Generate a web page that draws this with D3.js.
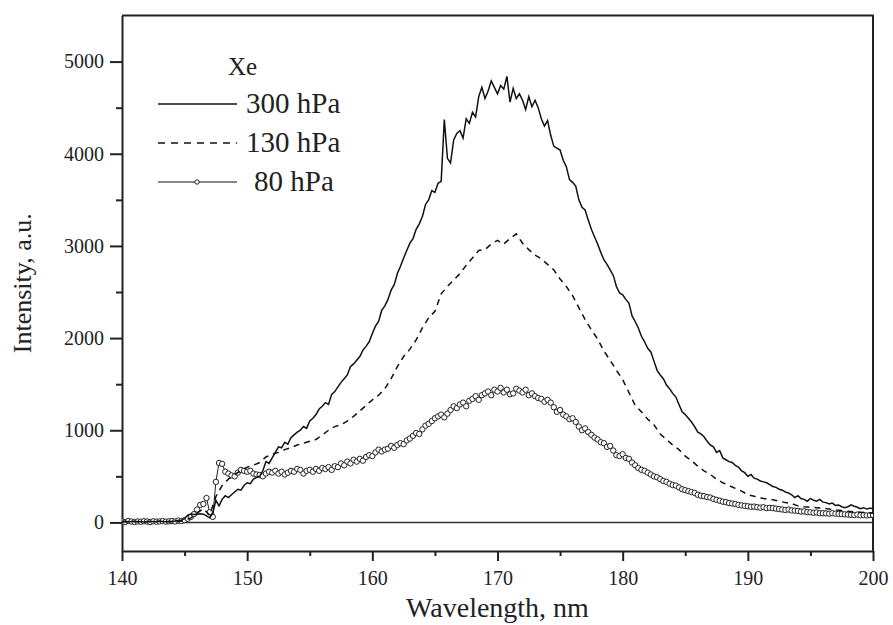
<!DOCTYPE html>
<html>
<head>
<meta charset="utf-8">
<script src="https://cdn.jsdelivr.net/npm/d3@7"></script>
<style>
  body { margin: 0; background: #fff; }
  svg { display: block; }
</style>
</head>
<body>
<div id="chart"></div>
<script>
// Xe emission spectra at three pressures

const SERIF = '"Liberation Serif", "Times New Roman", serif';

// wavelength grids (nm)
const fineStep = 0.25;   // used by 300 hPa and 80 hPa
const coarseStep = 0.5;  // used by 130 hPa

// 300 hPa, one row per nm (4 samples per nm)
const p300 = [
  10, 15, 5, 10,
  12, 8, 10, 5,
  10, 12, 8, 10,
  15, 10, 8, 12,
  10, 15, 20, 25,
  40, 80, 90, 85,
  90, 95, 90, 70,
  50, 100, 240, 180,
  250, 290, 270, 300,
  330, 360, 350, 400,
  430, 420, 470, 490,
  500, 560, 660, 640,
  700, 760, 820, 810,
  870, 850, 920, 950,
  980, 1000, 1040, 1020,
  1100, 1130, 1170, 1230,
  1260, 1300, 1280, 1390,
  1420, 1470, 1520, 1560,
  1600, 1690, 1720, 1760,
  1800, 1870, 1910, 1960,
  2050, 2130, 2180, 2300,
  2350, 2420, 2520, 2580,
  2700, 2780, 2870, 2950,
  3030, 3080, 3180, 3240,
  3320, 3450, 3500, 3600,
  3580, 3680, 3700, 4370,
  3950, 3900, 4150, 4220,
  4250, 4170, 4380, 4330,
  4450, 4400, 4620, 4720,
  4600, 4680, 4790, 4720,
  4650, 4740, 4700, 4840,
  4560, 4710, 4600, 4650,
  4580, 4480, 4620, 4510,
  4580, 4500, 4380, 4300,
  4360, 4200, 4080, 4060,
  4040, 3930, 3860, 3720,
  3690, 3650, 3500, 3420,
  3390, 3280, 3180, 3100,
  3020, 2930, 2850, 2800,
  2740, 2680, 2560, 2490,
  2470, 2420, 2380, 2240,
  2180, 2110, 2020, 1960,
  1890, 1850, 1750, 1650,
  1600, 1560, 1490, 1450,
  1400, 1360, 1280, 1200,
  1170, 1130, 1090, 1040,
  980, 960, 930, 880,
  840, 820, 760, 780,
  700, 680, 660, 650,
  620, 600, 560, 540,
  500, 520, 480, 470,
  450, 440, 430, 410,
  390, 380, 360, 350,
  330, 320, 300, 270,
  290, 260, 250, 230,
  260, 240, 230, 250,
  220, 215, 200, 210,
  185, 190, 170, 160,
  170, 190, 175, 165,
  150, 160, 145, 155,
  150
];

// 130 hPa, 2 samples per nm
const p130 = [
  5, 8, 10, 6, 8, 5, 10, 8, 6, 10,
  20, 50, 100, 150, 80, 280, 400, 470, 520, 560,
  600, 620, 650, 710, 740, 760, 790, 810, 840, 860,
  880, 900, 950, 1000, 1040, 1060, 1100, 1150, 1210, 1270,
  1330, 1380, 1450, 1560, 1690, 1800, 1880, 1980, 2110, 2220,
  2290, 2480, 2560, 2630, 2700, 2790, 2870, 2950, 2960, 3020,
  3060, 3020, 3080, 3130, 3030, 2960, 2900, 2860, 2800, 2740,
  2640, 2560, 2460, 2330, 2200, 2090, 1990, 1860, 1760, 1650,
  1550, 1410, 1270, 1200, 1120, 1060, 960, 900, 840, 790,
  720, 670, 610, 560, 520, 470, 430, 400, 370, 340,
  300, 285, 265, 255, 245, 230, 215, 205, 180, 170,
  165, 160, 155, 145, 135, 130, 120, 115, 110, 105,
  100
];

// 80 hPa, 4 samples per nm
const p80 = [
  10, 5, 15, 10,
  5, 10, 8, 12,
  10, 5, 12, 8,
  10, 15, 8, 12,
  15, 10, 20, 15,
  25, 40, 60, 90,
  140, 190, 200, 265,
  110, 60, 440, 645,
  635, 550, 530, 510,
  500, 540, 570, 560,
  550, 560, 530, 520,
  515, 500, 530, 550,
  540, 560, 530, 550,
  520, 540, 560, 550,
  580, 570, 530, 560,
  570, 550, 580, 560,
  590, 580, 600, 570,
  610, 600, 640, 620,
  660, 640, 680, 660,
  690, 670, 710, 730,
  720, 760, 790, 770,
  790, 800, 830, 810,
  840, 860, 850, 890,
  910, 940, 970, 960,
  1010, 1050, 1070, 1100,
  1130, 1150, 1170, 1140,
  1180, 1220, 1260, 1240,
  1280, 1300, 1260, 1320,
  1340, 1370, 1330, 1380,
  1400, 1420, 1380, 1440,
  1420, 1460, 1410, 1440,
  1390, 1400, 1450, 1430,
  1410, 1440, 1380, 1400,
  1370, 1350, 1340, 1310,
  1330, 1300, 1250, 1200,
  1220, 1170, 1150, 1120,
  1130, 1090, 1040, 1000,
  1020, 980, 950, 920,
  900, 870, 860, 820,
  830, 780, 730, 720,
  740, 700, 690, 650,
  620, 590, 570, 560,
  540, 520, 500, 490,
  470, 450, 440, 420,
  405, 400, 380, 360,
  350, 340, 330, 320,
  300, 290, 285, 275,
  270, 255, 245, 235,
  225, 220, 210, 205,
  200, 190, 185, 180,
  175, 170, 172, 165,
  160, 165, 155, 158,
  155, 150, 145, 140,
  135, 140, 130, 128,
  125, 118, 120, 112,
  110, 105, 108, 100,
  100, 98, 95, 100,
  95, 92, 90, 88,
  85, 82, 80, 85,
  78, 80, 75, 80,
  80
];

const xTicks = [140, 150, 160, 170, 180, 190, 200];
const xMinorTicks = [145, 155, 165, 175, 185, 195];
const yTicks = [0, 1000, 2000, 3000, 4000, 5000];
const yMinorTicks = [500, 1500, 2500, 3500, 4500];

const legendTitle = 'Xe';
const legendLabels = ['300 hPa', '130 hPa', '80 hPa'];

const width = 893, height = 625;
const margin = { top: 15.5, right: 20, bottom: 74, left: 122 };

const svg = d3.select('#chart').append('svg')
  .attr('width', width)
  .attr('height', height);

const x = d3.scaleLinear()
  .domain([140, 200])
  .range([margin.left, width - margin.right]);

const y = d3.scaleLinear()
  .domain([-310, 5500])
  .range([height - margin.bottom, margin.top]);

const toPoints = (arr, step) => arr.map((v, i) => [140 + i * step, v]);
const s300 = toPoints(p300, fineStep);
const s130 = toPoints(p130, coarseStep);
const s80 = toPoints(p80, fineStep);

svg.append('defs').append('clipPath').attr('id', 'plot')
  .append('rect')
  .attr('x', x(140)).attr('y', y(5500))
  .attr('width', x(200) - x(140)).attr('height', y(-310) - y(5500));

// bottom axis
svg.append('g')
  .attr('transform', `translate(0,${y(-310)})`)
  .call(d3.axisBottom(x).tickValues(xTicks).tickFormat(d3.format('d'))
    .tickSize(10).tickPadding(10).tickSizeOuter(0));
svg.append('g')
  .attr('transform', `translate(0,${y(-310)})`)
  .call(d3.axisBottom(x).tickValues(xMinorTicks).tickSize(5).tickFormat('').tickSizeOuter(0))
  .call(g => g.select('.domain').remove());

// left axis
svg.append('g')
  .attr('transform', `translate(${x(140)},0)`)
  .call(d3.axisLeft(y).tickValues(yTicks).tickFormat(d3.format('d'))
    .tickSize(12).tickPadding(6).tickSizeOuter(0));
svg.append('g')
  .attr('transform', `translate(${x(140)},0)`)
  .call(d3.axisLeft(y).tickValues(yMinorTicks).tickSize(6).tickFormat('').tickSizeOuter(0))
  .call(g => g.select('.domain').remove());

svg.selectAll('.domain, .tick line').attr('stroke', '#222').attr('stroke-width', 2);
svg.selectAll('.tick text')
  .attr('font-family', SERIF)
  .attr('font-size', 20)
  .attr('fill', '#222');

// top and right frame
svg.append('path')
  .attr('d', `M${x(140)},${y(5500)}H${x(200)}V${y(-310)}`)
  .attr('fill', 'none')
  .attr('stroke', '#222')
  .attr('stroke-width', 2);

// zero line
svg.append('line')
  .attr('x1', x(140)).attr('x2', x(200))
  .attr('y1', y(0)).attr('y2', y(0))
  .attr('stroke', '#333')
  .attr('stroke-width', 1.5);

const line = d3.line().x(d => x(d[0])).y(d => y(d[1]));
const plot = svg.append('g').attr('clip-path', 'url(#plot)');

plot.append('path')
  .datum(s80)
  .attr('fill', 'none')
  .attr('stroke', '#222')
  .attr('stroke-width', 1)
  .attr('d', line);

plot.selectAll('circle.p80')
  .data(s80)
  .join('circle')
  .attr('class', 'p80')
  .attr('cx', d => x(d[0]))
  .attr('cy', d => y(d[1]))
  .attr('r', 2.7)
  .attr('fill', '#fff')
  .attr('stroke', '#222')
  .attr('stroke-width', 1);

plot.append('path')
  .datum(s130)
  .attr('fill', 'none')
  .attr('stroke', '#111')
  .attr('stroke-width', 1.5)
  .attr('stroke-dasharray', '6,5')
  .attr('d', line);

plot.append('path')
  .datum(s300)
  .attr('fill', 'none')
  .attr('stroke', '#111')
  .attr('stroke-width', 1.5)
  .attr('d', line);

// axis titles
svg.append('text')
  .attr('x', (x(140) + x(200)) / 2)
  .attr('y', 617)
  .attr('text-anchor', 'middle')
  .attr('font-family', SERIF)
  .attr('font-size', 28)
  .attr('fill', '#222')
  .text('Wavelength, nm');

svg.append('text')
  .attr('transform', `translate(31,${(y(5500) + y(-310)) / 2}) rotate(-90)`)
  .attr('text-anchor', 'middle')
  .attr('font-family', SERIF)
  .attr('font-size', 26)
  .attr('fill', '#222')
  .text('Intensity, a.u.');

// legend
const legend = svg.append('g')
  .attr('font-family', SERIF)
  .attr('fill', '#222');

legend.append('text')
  .attr('x', 228).attr('y', 75)
  .attr('font-size', 25)
  .text(legendTitle);

const rows = [104, 143, 182];
legendLabels.forEach((label, i) => {
  const ly = rows[i];
  const ln = legend.append('line')
    .attr('x1', 158).attr('x2', 237)
    .attr('y1', ly).attr('y2', ly)
    .attr('stroke', '#111')
    .attr('stroke-width', i === 2 ? 1 : 1.5);
  if (i === 1) ln.attr('stroke-dasharray', '7,6');
  if (i === 2) {
    legend.append('circle')
      .attr('cx', 197).attr('cy', ly).attr('r', 2.2)
      .attr('fill', '#fff').attr('stroke', '#222').attr('stroke-width', 1);
  }
  legend.append('text')
    .attr('x', i === 2 ? 254 : 246)
    .attr('y', ly + 9)
    .attr('font-size', 29)
    .text(label);
});
</script>
</body>
</html>
